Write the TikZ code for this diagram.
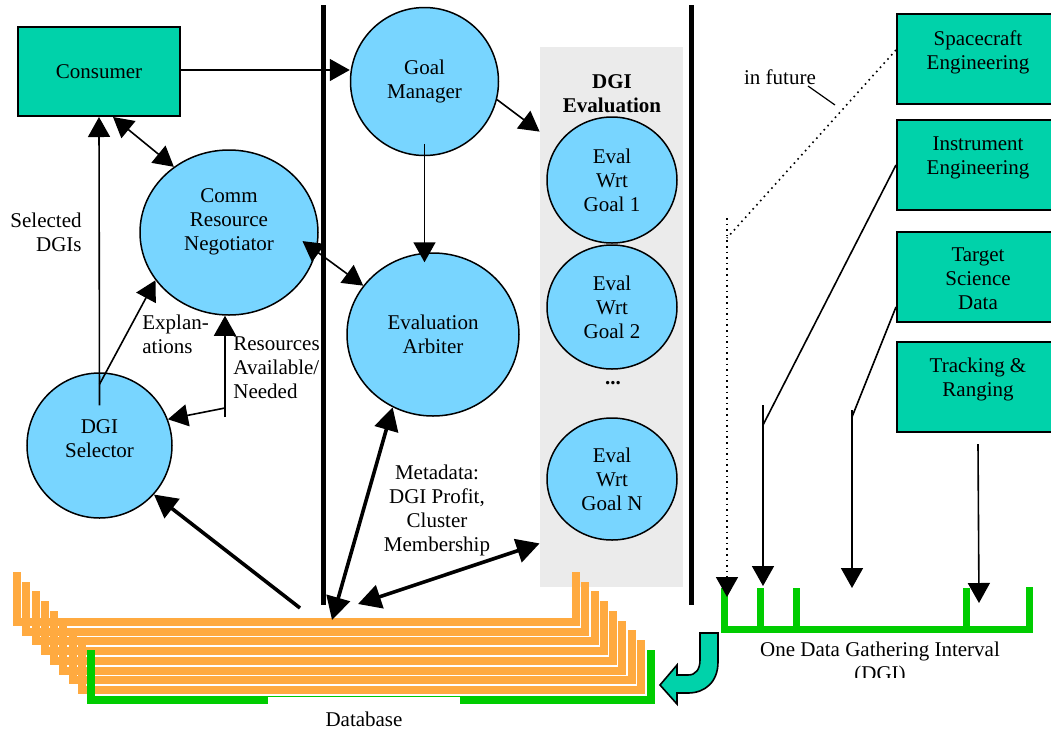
\documentclass[tikz,border=0pt]{standalone}
\usepackage{fontspec}
\setmainfont{Liberation Serif}
\usetikzlibrary{positioning,shapes.geometric,arrows.meta}

\definecolor{boxteal}{RGB}{0,210,170}
\definecolor{procblue}{RGB}{120,213,255}
\definecolor{dborange}{RGB}{255,170,64}
\definecolor{dgigreen}{RGB}{0,204,0}
\definecolor{evalgray}{RGB}{235,235,235}

\tikzset{
  srcbox/.style={rectangle, draw, line width=1pt, fill=boxteal, minimum width=81pt, minimum height=45pt, inner sep=0pt},
  procnode/.style={ellipse, draw, line width=0.75pt, fill=procblue, inner sep=0pt, align=center},
  txt/.style={align=center, inner sep=0pt},
  link/.style={line width=0.8pt, >={Triangle[length=10pt,width=11pt]}},
  biglink/.style={line width=1.8pt, >={Triangle[length=11.5pt,width=12pt]}},
  dbline/.style={line width=4pt, draw=dborange},
  dgiline/.style={line width=3.5pt, draw=dgigreen},
}

\begin{document}
\begin{tikzpicture}[x=0.5pt,y=-0.5pt,every node/.style={font=\fontsize{10.5}{12}\selectfont}]
\useasboundingbox (0,0) rectangle (1051,730);
\clip (0,0) rectangle (1051,730);

\node[rectangle, fill=evalgray, minimum width=71.5pt, minimum height=270pt, inner sep=0pt] (dgieval) at (611.5,317) {};

\draw[dbline] (17,572) -- (17,622) -- (576,622) -- (576,572);
\draw[dbline] (26,582) -- (26,632) -- (585,632) -- (585,582);
\draw[dbline] (36,591) -- (36,641) -- (595,641) -- (595,591);
\draw[dbline] (45,601) -- (45,651) -- (604,651) -- (604,601);
\draw[dbline] (54,611) -- (54,661) -- (613,661) -- (613,611);
\draw[dbline] (63,621) -- (63,671) -- (622,671) -- (622,621);
\draw[dbline] (73,630) -- (73,680) -- (632,680) -- (632,630);
\draw[dbline] (82,640) -- (82,690) -- (641,690) -- (641,640);
\draw[dbline, draw=dgigreen] (91,650) -- (91,700) -- (651,700) -- (651,650);
\node[fill=white, minimum width=96pt, inner xsep=0pt, inner ysep=7.5pt, anchor=north] (dblbl) at (364,697) {Database};

\draw[line width=2.5pt] (323,5) -- (323,605);
\draw[line width=2.5pt] (691,5) -- (691,605);

\node[srcbox, minimum height=44.5pt] (cons) at (99,71.5) {Consumer};
\node[procnode, minimum size=74pt] (gm) at (424.5,81.5) {Goal\\Manager};
\node[procnode, minimum width=89pt, minimum height=82.5pt, label={[txt,yshift=5.5pt]center:Comm\\Resource\\Negotiator}] (crn) at (229,232.5) {};
\node[procnode, minimum width=86pt, minimum height=81.5pt] (ea) at (433,334.5) {Evaluation\\Arbiter};
\node[procnode, minimum size=72.5pt, label={[txt,yshift=3.5pt]center:DGI\\Selector}] (dgis) at (99.5,445.5) {};

\node[txt, font=\fontsize{10.5}{12}\selectfont\bfseries] (dgititle) at (612,94) {DGI\\Evaluation};
\node[procnode, minimum width=65pt, minimum height=63pt] (ev1) at (612,180) {Eval\\Wrt\\Goal 1};
\node[procnode, minimum width=65pt, minimum height=62pt] (ev2) at (612,307) {Eval\\Wrt\\Goal 2};
\node[txt, font=\fontsize{10.5}{12}\selectfont\bfseries] (evdots) at (613,383) {...};
\node[procnode, minimum width=65pt, minimum height=61pt] (evn) at (612,479) {Eval\\Wrt\\Goal N};

\node[srcbox, label={[txt,anchor=north,yshift=-8.5pt]north:Spacecraft\\Engineering}] (sce) at (978,59) {};
\node[srcbox, label={[txt,anchor=north,yshift=-8.5pt]north:Instrument\\Engineering}] (ine) at (978,165) {};
\node[srcbox, label={[txt,anchor=north,yshift=-8.5pt]north:Target\\Science\\Data}] (tsd) at (978,276.5) {};
\node[srcbox, label={[txt,anchor=north,yshift=-8.5pt]north:Tracking \&\\Ranging}] (trk) at (978,387) {};

\node[txt, align=right, anchor=east] (sellbl) at (82,232) {Selected\\DGIs};
\node[txt, align=left, anchor=west] (explbl) at (142,334) {Explan-\\ations};
\node[txt, align=left, anchor=west] (reslbl) at (233,368) {Resources\\Available/\\Needed};
\node[txt] (metalbl) at (437,510) {Metadata:\\DGI Profit,\\Cluster\\Membership};
\node[txt] (futlbl) at (780,77) {in future};

\draw[dgiline] (724,588) -- (724,629) -- (1029,629) -- (1029,587);
\draw[dgiline] (760,588) -- (760,629);
\draw[dgiline] (796,588) -- (796,629);
\draw[dgiline] (966,588) -- (966,629);
\begin{scope}
\clip (700,636) rectangle (1051,677);
\node[txt, anchor=north] (dgilbl) at (880,642) {One Data Gathering Interval\\(DGI)};
\end{scope}

\draw[line width=0.8pt, fill=boxteal] (700,633) -- (718,633) -- (718,662) .. controls (718,682) and (705,693) .. (688,693) -- (677,693) -- (677,704) -- (660,685) -- (677,665) -- (677,675) -- (688,675) .. controls (696,675) and (700,669) .. (700,660) -- cycle;

\coordinate (dbA) at (332,620);
\coordinate (dbB) at (358,604);
\coordinate (dbC) at (300,608);
\coordinate (resbot) at (225,417);
\coordinate (resmid) at (225,408);
\coordinate (futA) at (808,86);
\coordinate (futB) at (835,105);
\coordinate (sceA) at (727,238);
\coordinate (sceB) at (727,218);
\coordinate (ineA) at (763,425);
\coordinate (ineB) at (763,405);
\coordinate (tsdA) at (852,417);
\coordinate (tsdB) at (852,410);
\coordinate (tk0) at (727,597);
\coordinate (tk1) at (763,586);
\coordinate (tk2) at (852,588);
\coordinate (tk3) at (979,603);

\draw[link,->] ([yshift=0.75pt]cons.east) -- ([yshift=0.75pt]cons.east -| gm.west);
\draw[link,<->] ([xshift=7pt]cons.south) -- (crn.130);
\draw[link,->] ([yshift=-16.5pt]dgis.north) -- (cons.south);
\draw[link,->] ([yshift=-6pt]dgis.north) -- (crn.213);
\draw[link,->] (resbot) -- (resbot |- crn.south);
\draw[link,->] (resmid) -- (dgis.21);
\draw[link,<->] ([xshift=-7pt,yshift=5pt]crn.-12) -- (ea.145);
\draw[link,->] ([yshift=6.25pt]gm.south) -- ([yshift=-5pt]gm.south |- ea.north);
\draw[link,->] (gm.-14) -- ([yshift=-42.5pt]dgieval.north west);
\draw[biglink,<->] (dbA) -- (ea.241);
\draw[biglink,<->] (dbB) -- ([yshift=22pt]dgieval.south west);
\draw[biglink,->] (dbC) -- (dgis.-42);

\draw[dotted, line width=0.8pt] ([yshift=4.5pt]sce.west) -- (sceA);
\draw[dotted, link, ->] (sceB) -- (tk0);
\draw[line width=0.6pt] (futA) -- (futB);
\draw[link] (ine.west) -- (ineA);
\draw[link,->] (ineB) -- (tk1);
\draw[link] ([yshift=-15.25pt]tsd.west) -- (tsdA);
\draw[link,->] (tsdB) -- (tk2);
\draw[link,->] ([yshift=-5.5pt]trk.south) -- (tk3);
\end{tikzpicture}
\end{document}
